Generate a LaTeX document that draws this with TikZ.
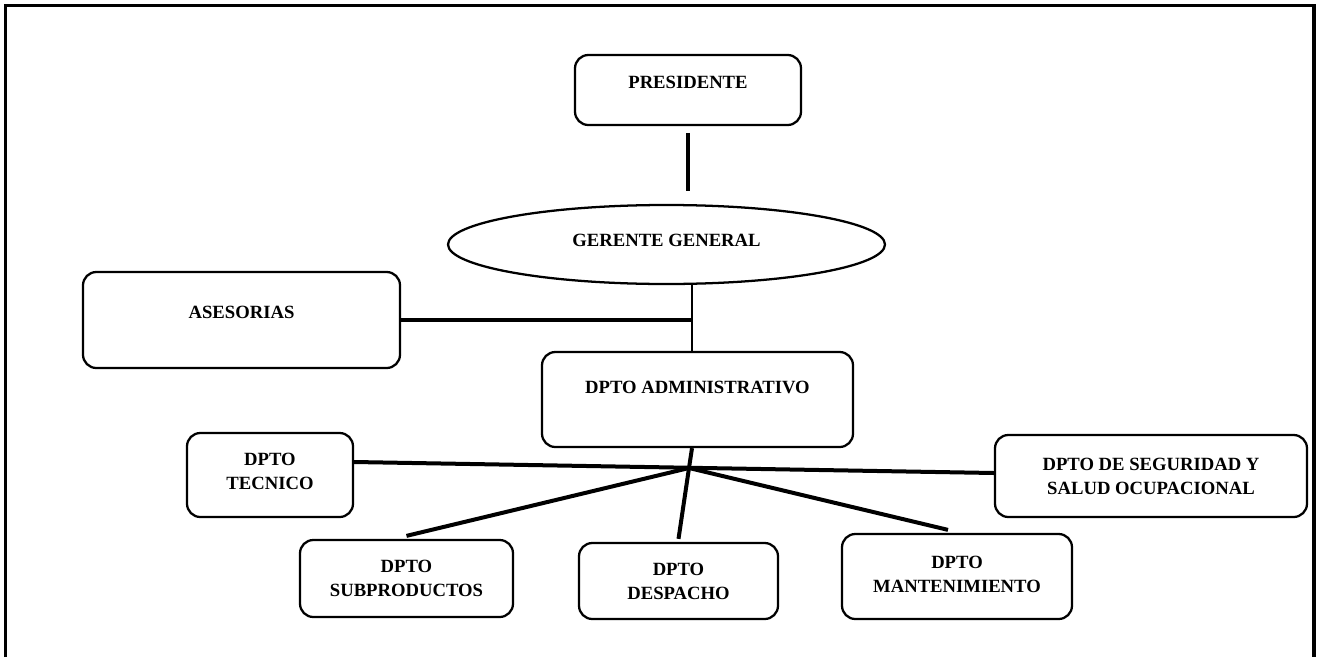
\documentclass[tikz,border=0pt]{standalone}
\usepackage{fontspec}
\setmainfont{Liberation Serif}
\usetikzlibrary{calc,shapes.geometric}

\begin{document}
\begin{tikzpicture}[x=0.75pt,y=-0.75pt,
  box/.style={draw,line width=1.7pt,rounded corners=10pt,align=center,inner sep=0pt,font=\fontsize{14}{18}\selectfont\bfseries},
  conn/.style={line width=3pt}]
\useasboundingbox (0,0) rectangle (1317,657);
\draw[line width=2.4pt] (5.5,657) -- (5.5,5.5) -- (1314,5.5) -- (1314,657);

\node[box,minimum width=169.5pt,minimum height=52.5pt,text depth=12pt] (pres) at (688,90) {PRESIDENTE};
\node[box,ellipse,rounded corners=0pt,minimum width=327.75pt,minimum height=59.25pt,text depth=6.5pt] (ger) at (666.5,244.5) {GERENTE GENERAL};
\node[box,minimum width=237.75pt,minimum height=72pt,text depth=12pt] (ases) at (241.5,320) {ASESORIAS};
\node[box,minimum width=233.25pt,minimum height=71.25pt,text depth=19pt] (admin) at (697.5,399.5) {DPTO ADMINISTRATIVO};

\node[box,minimum width=124.5pt,minimum height=63pt,text depth=6pt] (tec) at (270,475) {DPTO\\TECNICO};
\node[box,minimum width=234pt,minimum height=61.5pt] (seg) at (1151,476) {DPTO DE SEGURIDAD Y\\SALUD OCUPACIONAL};
\node[box,minimum width=159.75pt,minimum height=57.75pt] (sub) at (406.5,578.5) {DPTO\\SUBPRODUCTOS};
\node[box,minimum width=149.25pt,minimum height=57pt] (des) at (678.5,581) {DPTO\\DESPACHO};
\node[box,minimum width=172.5pt,minimum height=63.75pt,text depth=3pt] (man) at (957,576.5) {DPTO\\MANTENIMIENTO};

\coordinate (jn) at (692,320);
\coordinate (hub) at (689,468);

\draw[conn,shorten <=5pt,shorten >=9.5pt] (pres.south) -- (pres.south |- ger.north);
\draw[line width=1.5pt] (jn |- ger.south) -- (jn |- admin.north);
\draw[conn] (ases.east) -- (jn);
\draw[conn] (admin.south -| jn) -- (hub);
\draw[conn] ($(tec.east)+(0,-13)$) -- ($(seg.west)+(0,-3)$);
\draw[conn] (hub) -- ($(sub.north)+(0,-3)$);
\draw[conn] (hub) -- ($(des.north)+(0,-3)$);
\draw[conn] (hub) -- ($(man.north)+(-9,-3)$);
\end{tikzpicture}
\end{document}
